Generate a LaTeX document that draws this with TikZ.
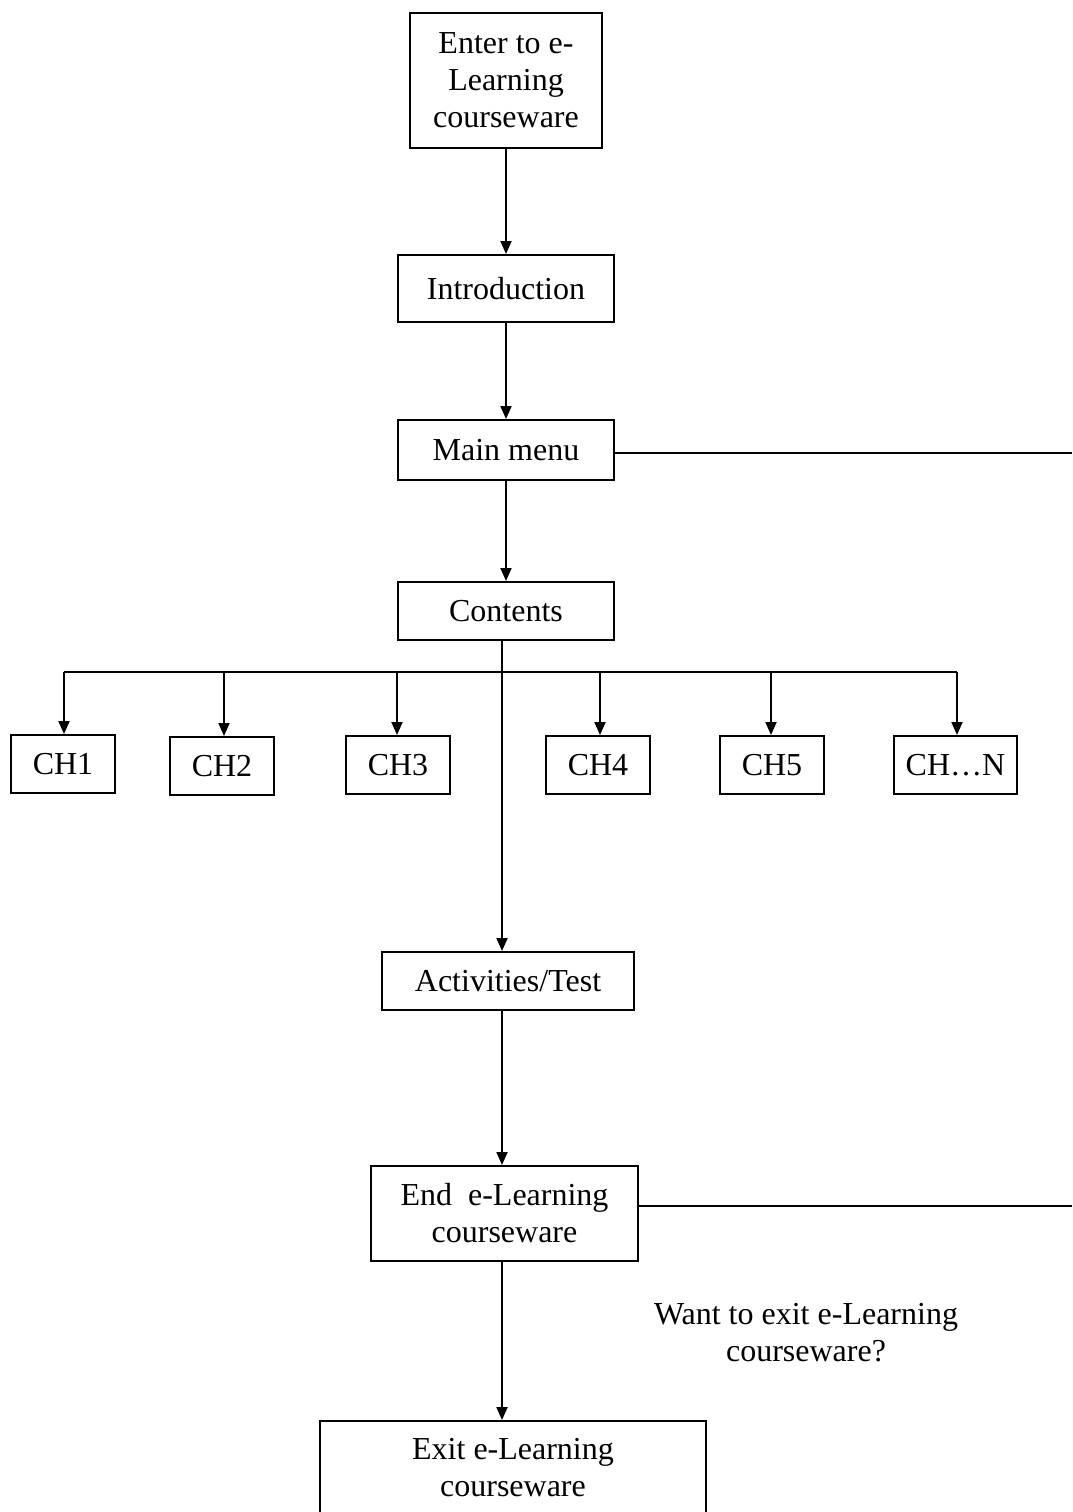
\documentclass[tikz,border=0pt]{standalone}
\usepackage{fontspec}
\setmainfont{Liberation Serif}
\usetikzlibrary{arrows.meta}
\begin{document}
\begin{tikzpicture}[x=1pt,y=-1pt,
  box/.style={draw,line width=2pt,inner sep=0pt,align=center,
    font=\fontsize{32}{37}\selectfont},
  arr/.style={line width=2pt,-{Triangle[length=13pt,width=11pt]}},
  ln/.style={line width=2pt}]
\useasboundingbox (0,0) rectangle (1072,1512);
\node[box,minimum width=192pt,minimum height=135pt] (enter) at (506,80.5) {Enter to e-\\Learning\\courseware};
\node[box,minimum width=216pt,minimum height=67pt] (intro) at (506,288.5) {Introduction};
\node[box,minimum width=216pt,minimum height=60pt] (mainm) at (506,450) {Main menu};
\node[box,minimum width=216pt,minimum height=58pt] (cont) at (506,611) {Contents};
\node[box,minimum width=104pt,minimum height=58pt] (ch1) at (63,764) {CH1};
\node[box,minimum width=104pt,minimum height=58pt] (ch2) at (222,766) {CH2};
\node[box,minimum width=104pt,minimum height=58pt] (ch3) at (398,765) {CH3};
\node[box,minimum width=104pt,minimum height=58pt] (ch4) at (598,765) {CH4};
\node[box,minimum width=104pt,minimum height=58pt] (ch5) at (772,765) {CH5};
\node[box,minimum width=123pt,minimum height=58pt] (chn) at (955.5,765) {CH\ldots N};
\node[box,minimum width=252pt,minimum height=58pt] (act) at (508,981) {Activities/Test};
\node[box,minimum width=267pt,minimum height=95pt] (endb) at (504.5,1213.5) {End\ \ e-Learning\\courseware};
\node[box,minimum width=386pt,minimum height=94pt] (exitb) at (513,1468) {Exit e-Learning\\courseware};
\node[align=center,inner sep=0pt,font=\fontsize{32}{37}\selectfont] (q) at (806,1333) {Want to exit e-Learning\\courseware?};
\coordinate (r1) at (1072,453);
\coordinate (r2) at (1072,1206);
\coordinate (t1) at (502,640);
\coordinate (busL) at (64,672);
\coordinate (busR) at (957,672);
\draw[arr] (enter.south) -- (intro.north);
\draw[arr] (intro.south) -- (mainm.north);
\draw[arr] (mainm.south) -- (cont.north);
\draw[ln] (mainm.east |- r1) -- (r1);
\draw[ln] (endb.east |- r2) -- (r2);
\draw[arr] (t1) -- (t1 |- act.north);
\draw[ln] (busL) -- (busR);
\foreach \n/\x in {ch1/64,ch2/224,ch3/397,ch4/600,ch5/771,chn/957}{
  \draw[arr] (\x,672) -- (\x,0 |- \n.north);
}
\draw[arr] (502,1010) -- (502,0 |- endb.north);
\draw[arr] (502,0 |- endb.south) -- (502,0 |- exitb.north);
\end{tikzpicture}
\end{document}
